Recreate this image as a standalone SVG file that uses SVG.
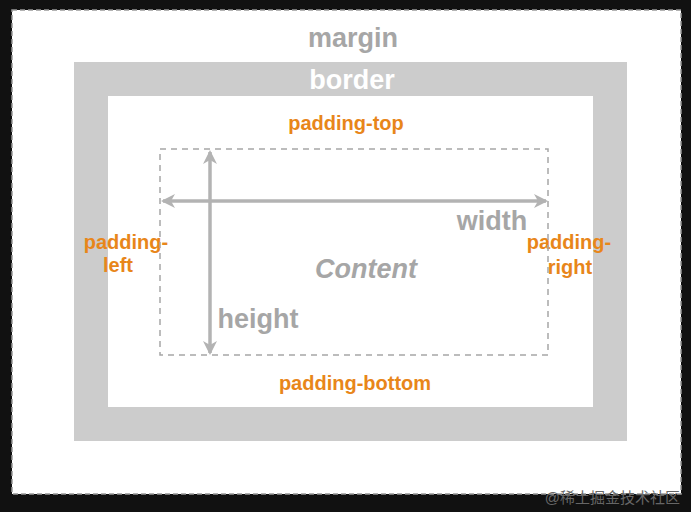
<svg xmlns="http://www.w3.org/2000/svg" width="691" height="512" viewBox="0 0 691 512">
<style>
.t{font-family:"Liberation Sans",Arial,sans-serif;font-weight:bold;text-anchor:middle}
.g{fill:#a6a6a6;font-size:27px}
.o{fill:#e8861a;font-size:20px}
.ar{stroke:#b3b3b3;stroke-width:3;fill:none}
</style>
<defs>
<marker id="ah" markerWidth="14" markerHeight="14" refX="12" refY="7" orient="auto" markerUnits="userSpaceOnUse" viewBox="0 0 14 14">
<path d="M0,0 L14,7 L0,14 L4,7 Z" fill="#b3b3b3"/>
</marker>
</defs>
<rect width="691" height="512" fill="#111"/>
<g id="margin">
<rect x="12" y="10" width="669" height="484" fill="#fff" stroke="#999" stroke-width="1.5" stroke-dasharray="5,3"/>
<text class="t g" x="353" y="47">margin</text>
</g>
<g id="border">
<rect x="74" y="62" width="553" height="379" fill="#cccccc"/>
<text class="t" x="352" y="89" fill="#fff" font-size="27">border</text>
</g>
<g id="padding">
<rect x="108" y="96" width="485" height="311" fill="#fff"/>
<text class="t o" x="346" y="130">padding-top</text>
<text class="t o" x="355" y="390">padding-bottom</text>
<text class="t o" x="126" y="249">padding-</text>
<text class="t o" x="118" y="272">left</text>
<text class="t o" x="569" y="249">padding-</text>
<text class="t o" x="570" y="274">right</text>
</g>
<g id="content">
<rect x="160" y="149" width="388" height="206" fill="none" stroke="#a6a6a6" stroke-width="1.5" stroke-dasharray="6,5"/>
<text class="t g" x="366" y="278" font-style="italic">Content</text>
<text class="t g" x="492" y="230">width</text>
<text class="t g" x="258" y="328">height</text>
</g>
<g id="connectors">
<line class="ar" x1="210" y1="353" x2="210" y2="152" marker-end="url(#ah)"/>
<line class="ar" x1="210" y1="152" x2="210" y2="353" marker-end="url(#ah)"/>
<line class="ar" x1="546" y1="201" x2="163" y2="201" marker-end="url(#ah)"/>
<line class="ar" x1="163" y1="201" x2="546" y2="201" marker-end="url(#ah)"/>
</g>
<text x="680" y="503" font-family="'Liberation Sans','Noto Sans CJK SC',sans-serif" font-size="15" fill="#666" text-anchor="end">@稀土掘金技术社区</text>
</svg>
